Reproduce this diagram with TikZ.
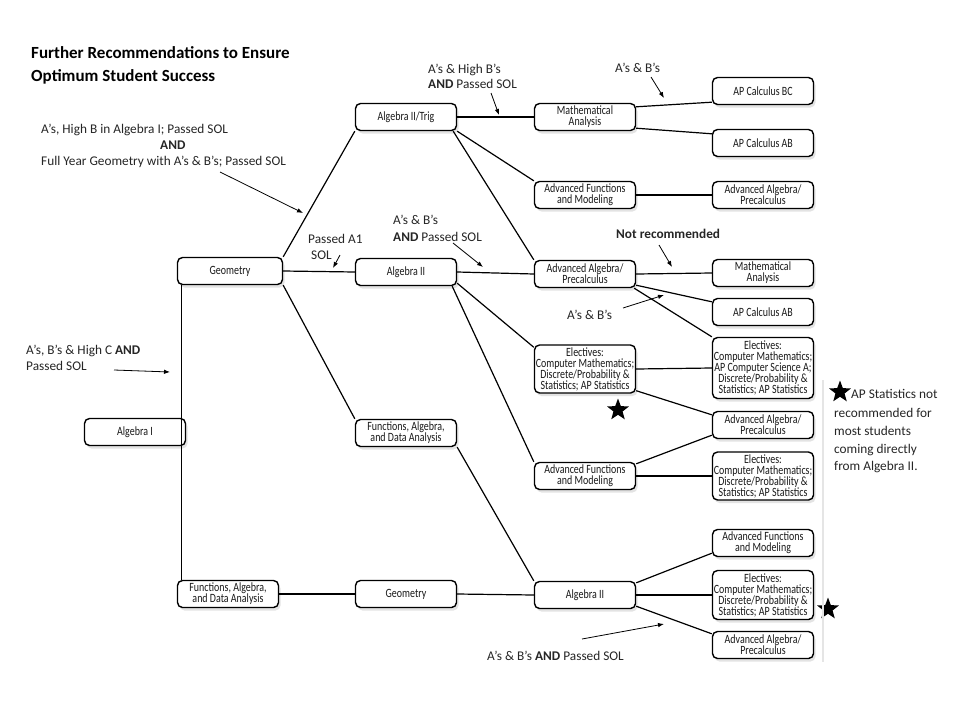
\documentclass[tikz,border=0pt]{standalone}
\usepackage{fontspec}
\setmainfont{Carlito}
\newfontfamily\coursefont[FakeStretch=0.79]{Carlito}
\usetikzlibrary{shapes.geometric, arrows.meta, shadows}
\tikzset{
    course/.style={rectangle, rounded corners=5pt, minimum width=101pt, minimum height=27pt, inner sep=1pt, align=center, draw=black, line width=1.4pt, fill=white, text=black!90, font=\coursefont\fontsize{12.6}{11}\selectfont, drop shadow={shadow xshift=2pt, shadow yshift=-3pt, opacity=0.22}},
    link/.style={line width=1.2pt},
    note/.style={anchor=base west, inner sep=0pt, text=black!85, font=\fontsize{13.3}{15}\selectfont},
    pointer/.style={line width=0.8pt, -{Latex[length=6pt, width=4.5pt]}},
    starmark/.style={star, star points=5, star point ratio=2.4, fill=black, minimum size=23pt, inner sep=0pt},
}

\begin{document}
\begin{tikzpicture}[x=1pt, y=-1pt]
  \useasboundingbox[fill=white] (0,0) rectangle (960,720);

  % title
  \node[note, font=\bfseries\fontsize{17}{19}\selectfont, text=black] (title1) at (31,58) {Further Recommendations to Ensure};
  \node[note, font=\bfseries\fontsize{17}{19}\selectfont, text=black] (title2) at (31,81) {Optimum Student Success};

  % courses
  \node[course] (alg1) at (135,432) {Algebra I};
  \node[course, minimum width=105pt] (geo1) at (230,271) {Geometry};
  \node[course] (fada1) at (228,594) {Functions, Algebra,\\and Data Analysis};

  \node[course] (trig) at (406,117) {Algebra II/Trig};
  \node[course] (alg2a) at (406,272) {Algebra II};
  \node[course] (fada2) at (406,433) {Functions, Algebra,\\and Data Analysis};
  \node[course] (geo2) at (406,594) {Geometry};

  \node[course] (ma1) at (585,117) {Mathematical\\Analysis};
  \node[course] (afm1) at (585,195) {Advanced Functions\\and Modeling};
  \node[course] (aap1) at (585,274) {Advanced Algebra/\\Precalculus};
  \node[course, minimum height=48pt] (elec1) at (585,369) {Electives:\\Computer Mathematics;\\Discrete/Probability \&\\Statistics; AP Statistics};
  \node[course] (afm2) at (585,476) {Advanced Functions\\and Modeling};
  \node[course] (alg2b) at (585,595) {Algebra II};

  \node[course] (bc) at (763,91) {AP Calculus BC};
  \node[course] (ab1) at (763,143) {AP Calculus AB};
  \node[course] (aap2) at (763,195) {Advanced Algebra/\\Precalculus};
  \node[course] (ma2) at (763,273) {Mathematical\\Analysis};
  \node[course] (ab2) at (763,312) {AP Calculus AB};
  \node[course, minimum height=61pt] (elec2) at (763,368) {Electives:\\Computer Mathematics;\\AP Computer Science A;\\Discrete/Probability \&\\Statistics; AP Statistics};
  \node[course] (aap3) at (763,425) {Advanced Algebra/\\Precalculus};
  \node[course, minimum height=48pt] (elec3) at (763,476) {Electives:\\Computer Mathematics;\\Discrete/Probability \&\\Statistics; AP Statistics};
  \node[course] (afm3) at (763,543) {Advanced Functions\\and Modeling};
  \node[course, minimum height=49pt] (elec4) at (763,595) {Electives:\\Computer Mathematics;\\Discrete/Probability \&\\Statistics; AP Statistics};
  \node[course] (aap4) at (763,645) {Advanced Algebra/\\Precalculus};

  % links
  \draw[link] ([xshift=4.5pt]geo1.south west) -- ([xshift=4.5pt]geo1.south west |- fada1.north);
  \draw[link] (geo1.north east) -- (trig.south west);
  \draw[link] (geo1.east) -- (alg2a.west);
  \draw[link] (geo1.south east) -- (fada2.north west);
  \draw[link] (fada1.east) -- (geo2.west);
  \draw[link] (geo2.east) -- (alg2b.west);
  \draw[link] (fada2.south east) -- (alg2b.north west);

  \draw[link] (trig.east) -- (ma1.west);
  \draw[link] (trig.south east) -- (afm1.north west);
  \draw[link] ([xshift=-4pt]trig.south east) -- (aap1.north west);
  \draw[link] ([yshift=-4pt]ma1.north east) -- ([yshift=3pt]bc.south west);
  \draw[link] ([yshift=3pt]ma1.south east) -- ([yshift=-5pt]ab1.north west);
  \draw[link] (afm1.east) -- (aap2.west);

  \draw[link] (alg2a.east) -- (aap1.west);
  \draw[link] ([yshift=3pt]alg2a.south east) -- ([yshift=-3pt]elec1.north west);
  \draw[link] ([xshift=-5pt]alg2a.south east) -- (afm2.north west);
  \draw[link] (aap1.east) -- (ma2.west);
  \draw[link] ([yshift=3pt]aap1.south east) -- ([yshift=-4pt]ab2.north west);
  \draw[link] ([xshift=-2pt]aap1.south east) -- (elec2.north west);
  \draw[link] (elec1.east) -- (elec2.west);
  \draw[link] ([yshift=3pt]elec1.south east) -- ([yshift=-4pt]aap3.north west);
  \draw[link] ([yshift=-2pt]afm2.north east) -- ([yshift=4pt]aap3.south west);
  \draw[link] (afm2.east) -- (elec3.west);

  \draw[link] ([yshift=-2pt]alg2b.north east) -- ([yshift=4pt]afm3.south west);
  \draw[link] (alg2b.east) -- (elec4.west);
  \draw[link] ([yshift=3pt]alg2b.south east) -- ([yshift=-3pt]aap4.north west);

  % notes
  \node[note] (n1a) at (41,133) {A’s, High B in Algebra I; Passed SOL};
  \node[note, font=\bfseries\fontsize{13.3}{15}\selectfont] (n1b) at (160,149) {AND};
  \node[note] (n1c) at (41,165) {Full Year Geometry with A’s \& B’s; Passed SOL};
  \node[note] (n2a) at (428,73) {A’s \& High B’s};
  \node[note] (n2b) at (428,88) {\textbf{AND} Passed SOL};
  \node[note] (n3) at (615,72) {A’s \& B’s};
  \node[note] (n4a) at (308,243) {Passed A1};
  \node[note] (n4b) at (311,259) {SOL};
  \node[note] (n5a) at (393,224) {A’s \& B’s};
  \node[note] (n5b) at (393,241) {\textbf{AND} Passed SOL};
  \node[note, font=\bfseries\fontsize{13.3}{15}\selectfont] (n6) at (616,238) {Not recommended};
  \node[note] (n7) at (567,319) {A’s \& B’s};
  \node[note] (n8a) at (26,354) {A’s, B’s \& High C \textbf{AND}};
  \node[note] (n8b) at (26,370) {Passed SOL};
  \node[note] (n9) at (487,660) {A’s \& B’s \textbf{AND} Passed SOL};

  \coordinate (p1a) at (220,172);  \coordinate (p1b) at (303,213);
  \coordinate (p2a) at (491,93);   \coordinate (p2b) at (499,115);
  \coordinate (p3a) at (651,77);   \coordinate (p3b) at (664,98);
  \coordinate (p4a) at (340,255);  \coordinate (p4b) at (333,268);
  \coordinate (p5a) at (453,243);  \coordinate (p5b) at (483,267);
  \coordinate (p6a) at (659,245);  \coordinate (p6b) at (672,267);
  \coordinate (p7a) at (623,308);  \coordinate (p7b) at (664,295);
  \coordinate (p8a) at (114,370);  \coordinate (p8b) at (170,372);
  \coordinate (p9a) at (582,639);  \coordinate (p9b) at (664,624);
  \foreach \p in {1,...,9}
    \draw[pointer] (p\p a) -- (p\p b);

  % stars and footnote
  \node[starmark] (star1) at (618,410) {};
  \node[starmark] (star2) at (828,609) {};
  \node[starmark] (star3) at (840,392) {};
  \node[note] (f1) at (851,398) {AP Statistics not};
  \node[note] (f2) at (834,417) {recommended for};
  \node[note] (f3) at (834,435) {most students};
  \node[note] (f4) at (834,453) {coming directly};
  \node[note] (f5) at (834,470) {from Algebra II.};

  % faint edge of the chart
  \draw[gray!20, line width=2pt] (823,380) -- (823,662);
\end{tikzpicture}
\end{document}
